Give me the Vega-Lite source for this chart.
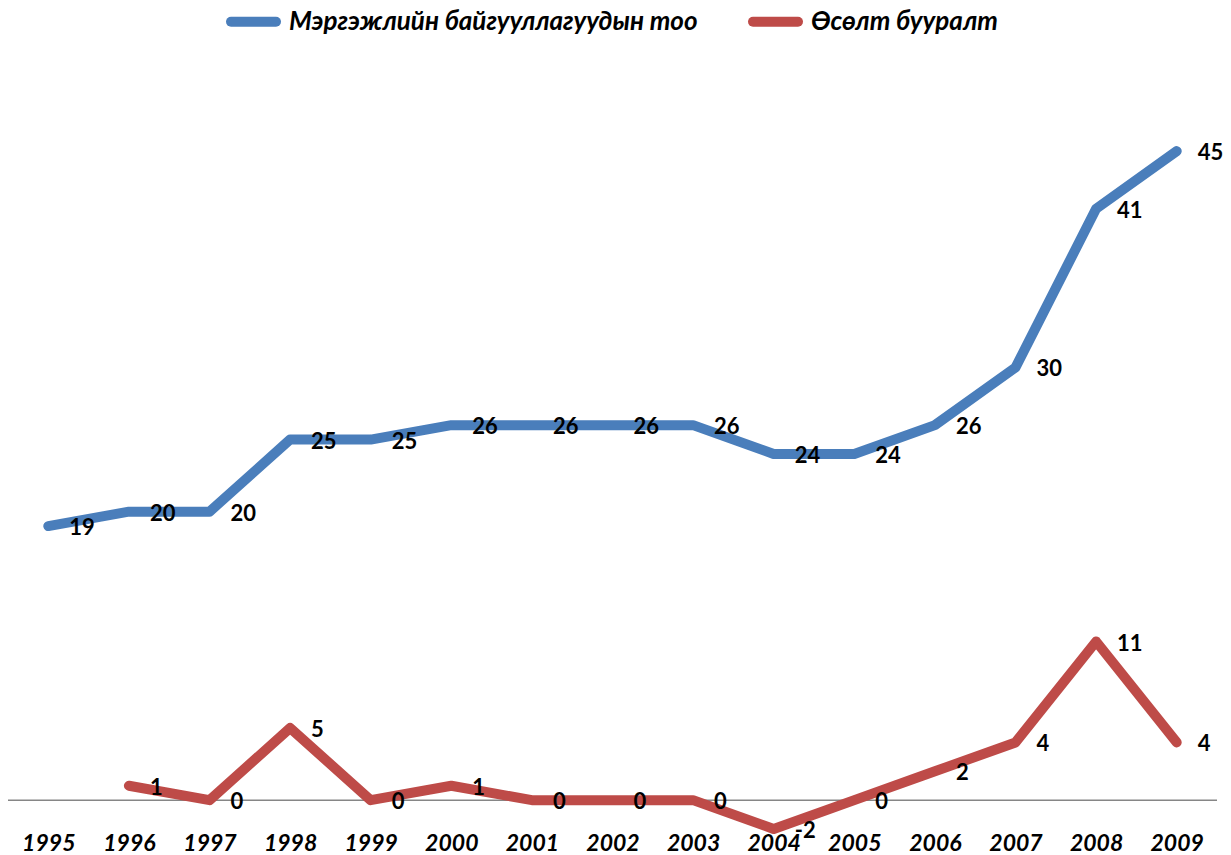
{
  "$schema": "https://vega.github.io/schema/vega-lite/v6.json",
  "autosize": "none",
  "width": 1209,
  "height": 750,
  "padding": {"left": 8, "top": 79, "right": 14, "bottom": 26},
  "background": "white",
  "config": {"view": {"stroke": null}, "font": "Lato"},
  "data": {"values": [
    {"year": "1995", "series": "Мэргэжлийн байгууллагуудын тоо", "value": 19},
    {"year": "1996", "series": "Мэргэжлийн байгууллагуудын тоо", "value": 20},
    {"year": "1997", "series": "Мэргэжлийн байгууллагуудын тоо", "value": 20},
    {"year": "1998", "series": "Мэргэжлийн байгууллагуудын тоо", "value": 25},
    {"year": "1999", "series": "Мэргэжлийн байгууллагуудын тоо", "value": 25},
    {"year": "2000", "series": "Мэргэжлийн байгууллагуудын тоо", "value": 26},
    {"year": "2001", "series": "Мэргэжлийн байгууллагуудын тоо", "value": 26},
    {"year": "2002", "series": "Мэргэжлийн байгууллагуудын тоо", "value": 26},
    {"year": "2003", "series": "Мэргэжлийн байгууллагуудын тоо", "value": 26},
    {"year": "2004", "series": "Мэргэжлийн байгууллагуудын тоо", "value": 24},
    {"year": "2005", "series": "Мэргэжлийн байгууллагуудын тоо", "value": 24},
    {"year": "2006", "series": "Мэргэжлийн байгууллагуудын тоо", "value": 26},
    {"year": "2007", "series": "Мэргэжлийн байгууллагуудын тоо", "value": 30},
    {"year": "2008", "series": "Мэргэжлийн байгууллагуудын тоо", "value": 41},
    {"year": "2009", "series": "Мэргэжлийн байгууллагуудын тоо", "value": 45},
    {"year": "1996", "series": "Өсөлт бууралт", "value": 1},
    {"year": "1997", "series": "Өсөлт бууралт", "value": 0},
    {"year": "1998", "series": "Өсөлт бууралт", "value": 5},
    {"year": "1999", "series": "Өсөлт бууралт", "value": 0},
    {"year": "2000", "series": "Өсөлт бууралт", "value": 1},
    {"year": "2001", "series": "Өсөлт бууралт", "value": 0},
    {"year": "2002", "series": "Өсөлт бууралт", "value": 0},
    {"year": "2003", "series": "Өсөлт бууралт", "value": 0},
    {"year": "2004", "series": "Өсөлт бууралт", "value": -2},
    {"year": "2005", "series": "Өсөлт бууралт", "value": 0},
    {"year": "2006", "series": "Өсөлт бууралт", "value": 2},
    {"year": "2007", "series": "Өсөлт бууралт", "value": 4},
    {"year": "2008", "series": "Өсөлт бууралт", "value": 11},
    {"year": "2009", "series": "Өсөлт бууралт", "value": 4}
  ]},
  "encoding": {
    "x": {
      "field": "year", "type": "ordinal",
      "scale": {"type": "point", "padding": 0.5},
      "axis": {
        "title": null, "domain": false, "ticks": false, "labelAngle": 0,
        "labelFont": "Lato", "labelFontSize": 23, "labelFontWeight": "bold",
        "labelFontStyle": "italic", "labelColor": "black", "labelPadding": 3,
        "grid": false
      }
    },
    "y": {
      "field": "value", "type": "quantitative",
      "scale": {"domain": [-2, 50], "nice": false, "zero": false},
      "axis": null
    }
  },
  "layer": [
    {
      "data": {"values": [{"zero": 0}]},
      "mark": {"type": "rule", "color": "#868686", "strokeWidth": 1.5},
      "encoding": {"y": {"field": "zero", "type": "quantitative"}, "x": null}
    },
    {
      "mark": {"type": "line", "strokeWidth": 10, "strokeCap": "round", "strokeJoin": "round"},
      "encoding": {
        "color": {
          "field": "series", "type": "nominal",
          "scale": {"domain": ["Мэргэжлийн байгууллагуудын тоо", "Өсөлт бууралт"], "range": ["#4A7EBB", "#BE4B48"]},
          "legend": {
            "title": null, "orient": "none", "direction": "horizontal",
            "legendX": 218, "legendY": -85,
            "symbolType": "stroke", "symbolSize": 2025, "symbolStrokeWidth": 10,
            "labelFont": "Lato", "labelFontSize": 26, "labelFontWeight": "bold",
            "labelFontStyle": "italic", "labelColor": "black", "labelLimit": 600,
            "labelOffset": 8, "columnPadding": 35,
            "encode": {"symbols": {"update": {"strokeCap": {"value": "round"}}}}
          }
        }
      }
    },
    {
      "mark": {"type": "text", "align": "left", "baseline": "middle", "dx": 21, "dy": 2,
               "font": "Lato", "fontSize": 22, "fontWeight": "bold", "color": "black"},
      "encoding": {"text": {"field": "value", "type": "nominal"}}
    }
  ]
}
